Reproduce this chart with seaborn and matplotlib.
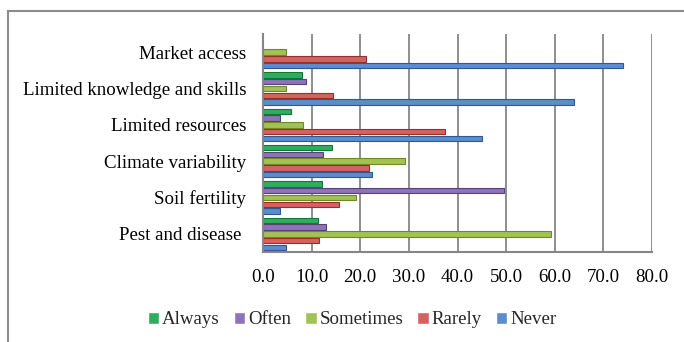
import pandas as pd
import seaborn as sns
import matplotlib.pyplot as plt
from matplotlib.patches import Rectangle
from matplotlib.ticker import FormatStrFormatter

categories = ["Market access", "Limited knowledge and skills", "Limited resources",
              "Climate variability", "Soil fertility", "Pest and disease "]
levels = ["Always", "Often", "Sometimes", "Rarely", "Never"]

always = [0.0, 8.0, 5.8, 14.2, 12.1, 11.4]
often = [0.0, 8.8, 3.4, 12.3, 49.6, 13.0]
sometimes = [4.8, 4.8, 8.2, 29.2, 19.1, 59.2]
rarely = [21.2, 14.4, 37.4, 21.7, 15.7, 11.6]
never = [74.0, 64.0, 45.0, 22.5, 3.4, 4.8]

colors = ["#17C45A", "#8A68C4", "#AAD443", "#E8504C", "#4A8ADC"]
edges = ["#0E7A35", "#56407E", "#6E8A28", "#9A2E2B", "#2A5A96"]

rows = []
for lvl, vals in zip(levels, [always, often, sometimes, rarely, never]):
    for cat, v in zip(categories, vals):
        rows.append({"cat": cat, "level": lvl, "value": v})
df = pd.DataFrame(rows)

sns.set_style("white")
plt.rcParams["font.family"] = ["Liberation Serif", "DejaVu Serif"]

fig = plt.figure(figsize=(6.84, 3.42), dpi=100)
ax = fig.add_axes([263 / 684, 1 - 252 / 342, (652 - 263) / 684, (252 - 34) / 342])

# outer chart frame
fig.patches.append(Rectangle((8 / 684, -0.1), 1.2, 1 - 11 / 342 + 0.1, transform=fig.transFigure,
                             fill=False, edgecolor="#8c8c8c", linewidth=1.5, zorder=0))

sns.barplot(data=df, y="cat", x="value", hue="level", order=categories, hue_order=levels,
            palette=colors, orient="h", width=0.92, gap=0.2, ax=ax, legend=True)

for i, cont in enumerate(ax.containers):
    for bar in cont:
        bar.set_edgecolor(edges[i])
        bar.set_linewidth(0.8)
        if bar.get_width() == 0:
            bar.set_visible(False)

ax.set_xlim(0, 80)
ax.set_xticks(range(0, 81, 10))
ax.xaxis.set_major_formatter(FormatStrFormatter("%.1f"))
ax.grid(axis="x", color="#868686", linewidth=1.3)
ax.set_axisbelow(True)
for s in ["top", "right"]:
    ax.spines[s].set_visible(False)
for s in ["left", "bottom"]:
    ax.spines[s].set_color("#868686")
    ax.spines[s].set_linewidth(1.5)
ax.tick_params(axis="both", length=0, labelsize=13.6, colors="black")
ax.tick_params(axis="y", pad=12)
ax.tick_params(axis="x", pad=12)
ax.set_xlabel("")
ax.set_ylabel("")

handles, labels = ax.get_legend_handles_labels()
ax.get_legend().remove()
fig.legend(handles, labels, loc="center", bbox_to_anchor=(352 / 684, 1 - 320 / 342), ncol=5,
           frameon=False, fontsize=13.6, handlelength=0.6, handleheight=0.6,
           handletextpad=0.15, columnspacing=0.75, borderaxespad=0)

fig.savefig("out.png", dpi=100)
